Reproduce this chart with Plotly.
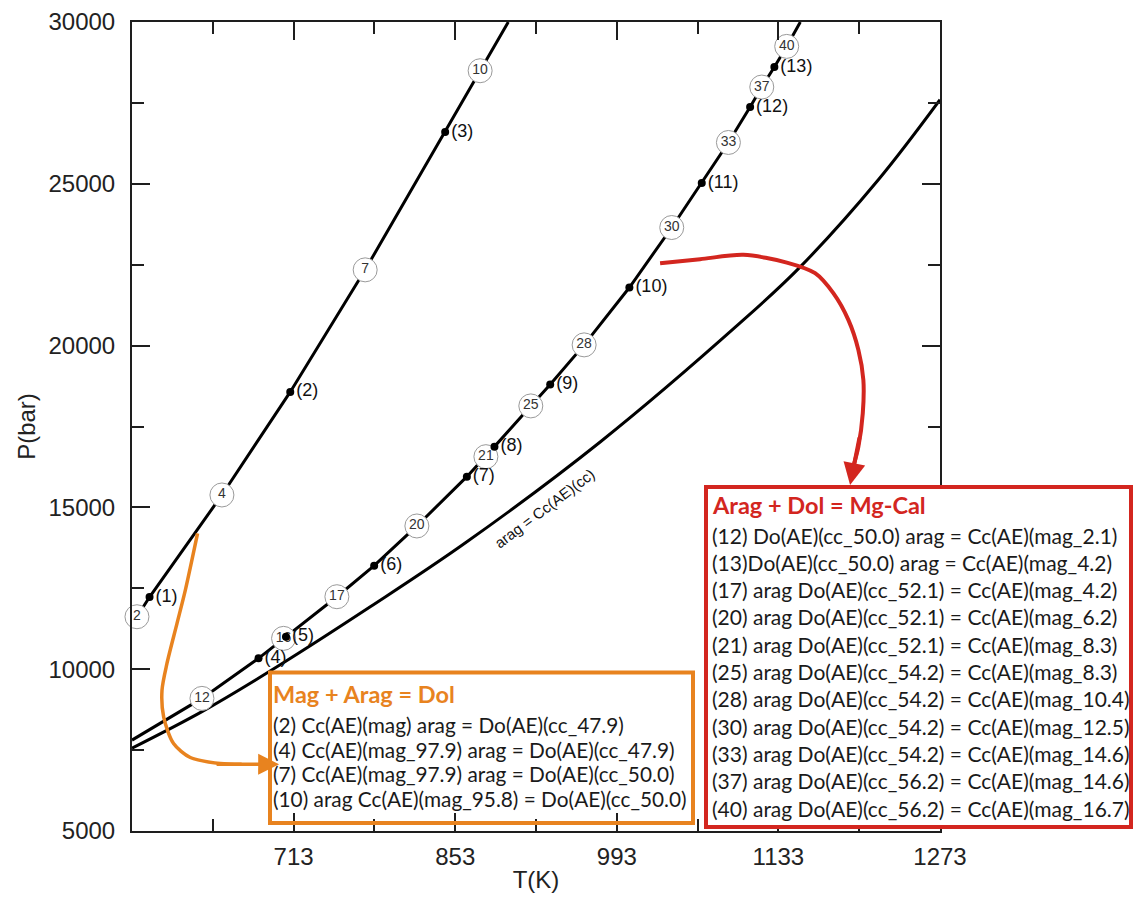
import plotly.graph_objects as go

# ------------------------------------------------------------------ data
# Left reaction curve (Mag + Arag = Dol)
curveA_dot_T = [588.2, 710.1, 844.3]
curveA_dot_P = [12230, 18569, 26599]
curveA_dot_lbl = ["(1)", "(2)", "(3)"]
curveA_circ_T = [577.3, 650.9, 775.0, 874.6]
curveA_circ_P = [11621, 15384, 22341, 28494]
curveA_circ_lbl = ["2", "4", "7", "10"]
curveA_end_T = [573, 899]
curveA_end_P = [11380, 30000]

# Middle reaction curve (Arag + Dol = Mg-Cal)
curveB_dot_T = [682.6, 706.4, 782.8, 863.1, 887.0, 935.3, 1003.9, 1066.6, 1108.5, 1129.5]
curveB_dot_P = [10335, 11003, 13198, 15950, 16878, 18800, 21794, 25022, 27372, 28609]
curveB_dot_lbl = ["(4)", "(5)", "(6)", "(7)", "(8)", "(9)", "(10)", "(11)", "(12)", "(13)"]
curveB_circ_T = [633.6, 704.3, 750.5, 819.8, 879.6, 918.5, 964.7, 1040.6, 1089.7, 1118.6, 1140.2]
curveB_circ_P = [9098, 10953, 12240, 14426, 16568, 18136, 20022, 23649, 26277, 27990, 29246]
curveB_circ_lbl = ["12", "16", "17", "20", "21", "25", "28", "30", "33", "37", "40"]
curveB_end_T = [573, 1152]
curveB_end_P = [7809, 30000]

# arag = Cc(AE)(cc)
curveC_T = [573, 633.6, 698.6, 779.4, 861.6, 978.6, 1099.8, 1151.7, 1219.6, 1273]
curveC_P = [7561, 8690, 10075, 11928, 13898, 17021, 20700, 22425, 25124, 27598]
curveC_label = "arag = Cc(AE)(cc)"
curveC_label_T, curveC_label_P = 930.1, 14980

# pointer arrows (data space)
orange_arrow_T = [629.8, 619.2, 612.0, 603.3, 599.0, 600.4, 609.0, 623.5, 649.5, 668.0]
orange_arrow_P = [14198, 12444, 11415, 10178, 9352, 8527, 7704, 7271, 7086, 7064]
orange_head_from = (645.0, 7064)
orange_tip = (700.5, 7060)
red_arrow_T = [1030.5, 1065.2, 1102.7, 1140.3, 1164.8, 1180.6, 1193.6, 1202.3, 1206.6, 1206.1, 1202.3, 1197.9]
red_arrow_P = [22547, 22671, 22804, 22566, 22238, 21620, 20794, 19866, 18939, 17909, 16876, 16257]
red_head_from = (1203.5, 17200)
red_tip = (1195.1, 15691)

# axes
x_tick_vals = [713, 853, 993, 1133, 1273]
x_minor_vals = [643, 783, 923, 1063, 1203]
y_tick_vals = [5000, 10000, 15000, 20000, 25000, 30000]
y_minor_vals = [7500, 12500, 17500, 22500, 27500]

# text boxes
mag_title = "Mag + Arag = Dol"
mag_rows = [
    "(2) Cc(AE)(mag) arag = Do(AE)(cc_47.9)",
    "(4) Cc(AE)(mag_97.9) arag = Do(AE)(cc_47.9)",
    "(7) Cc(AE)(mag_97.9) arag = Do(AE)(cc_50.0)",
    "(10) arag Cc(AE)(mag_95.8) = Do(AE)(cc_50.0)",
]
cal_title = "Arag + Dol = Mg-Cal"
cal_rows = [
    "(12) Do(AE)(cc_50.0) arag = Cc(AE)(mag_2.1)",
    "(13)Do(AE)(cc_50.0) arag = Cc(AE)(mag_4.2)",
    "(17) arag Do(AE)(cc_52.1) = Cc(AE)(mag_4.2)",
    "(20) arag Do(AE)(cc_52.1) = Cc(AE)(mag_6.2)",
    "(21) arag Do(AE)(cc_52.1) = Cc(AE)(mag_8.3)",
    "(25) arag Do(AE)(cc_54.2) = Cc(AE)(mag_8.3)",
    "(28) arag Do(AE)(cc_54.2) = Cc(AE)(mag_10.4)",
    "(30) arag Do(AE)(cc_54.2) = Cc(AE)(mag_12.5)",
    "(33) arag Do(AE)(cc_54.2) = Cc(AE)(mag_14.6)",
    "(37) arag Do(AE)(cc_56.2) = Cc(AE)(mag_14.6)",
    "(40) arag Do(AE)(cc_56.2) = Cc(AE)(mag_16.7)",
]

# ------------------------------------------------------------------ style
W, H = 1134, 899
ML, MR, MT, MB = 132, 194, 22, 68
PW, PH = W - ML - MR, H - MT - MB
FONT_AX = "Liberation Sans, Arial, sans-serif"
FONT_BOX = "Lato, Calibri, sans-serif"
ORANGE = "#E8831F"
RED = "#D3261F"
AXC = "#1e1e1e"


def px(x):
    return (x - ML) / PW


def py(y):
    return (H - MB - y) / PH


def merged(T1, P1, T2, P2, T3, P3):
    pts = sorted(zip(list(T1) + list(T2) + list(T3), list(P1) + list(P2) + list(P3)))
    return [p[0] for p in pts], [p[1] for p in pts]


fig = go.Figure()

# curves
for T1, P1, T2, P2, T3, P3 in [
    (curveA_end_T, curveA_end_P, curveA_dot_T, curveA_dot_P, curveA_circ_T, curveA_circ_P),
    (curveB_end_T, curveB_end_P, curveB_dot_T, curveB_dot_P, curveB_circ_T, curveB_circ_P),
]:
    lx, ly = merged(T1, P1, T2, P2, T3, P3)
    fig.add_trace(go.Scatter(x=lx, y=ly, mode="lines",
                             line=dict(color="black", width=3), hoverinfo="skip"))

fig.add_trace(go.Scatter(x=curveC_T, y=curveC_P, mode="lines",
                         line=dict(color="black", width=3, shape="spline", smoothing=1.0),
                         hoverinfo="skip"))

# circled step numbers
for T, P, L in [(curveA_circ_T, curveA_circ_P, curveA_circ_lbl),
                (curveB_circ_T, curveB_circ_P, curveB_circ_lbl)]:
    fig.add_trace(go.Scatter(
        x=T, y=P, text=L, mode="markers+text", textposition="middle center",
        marker=dict(symbol="circle", size=24, color="white",
                    line=dict(color="#9a9a9a", width=1)),
        textfont=dict(family=FONT_AX, size=14, color="#333333"),
        cliponaxis=False, hoverinfo="skip"))

# invariant points
for T, P, L in [(curveA_dot_T, curveA_dot_P, curveA_dot_lbl),
                (curveB_dot_T, curveB_dot_P, curveB_dot_lbl)]:
    fig.add_trace(go.Scatter(
        x=T, y=P, text=L, mode="markers+text", textposition="middle right",
        marker=dict(symbol="circle", size=8, color="black"),
        textfont=dict(family=FONT_AX, size=18, color="#111111"),
        cliponaxis=False, hoverinfo="skip"))

# pointer arrows (shafts)
fig.add_trace(go.Scatter(x=orange_arrow_T, y=orange_arrow_P, mode="lines",
                         line=dict(color=ORANGE, width=3.5, shape="spline", smoothing=0.8),
                         hoverinfo="skip"))
fig.add_trace(go.Scatter(x=red_arrow_T, y=red_arrow_P, mode="lines",
                         line=dict(color=RED, width=4, shape="spline", smoothing=0.8),
                         hoverinfo="skip"))

annotations = []
# arrow heads
annotations.append(dict(x=orange_tip[0], y=orange_tip[1], xref="x", yref="y",
                        ax=orange_head_from[0], ay=orange_head_from[1], axref="x", ayref="y",
                        text="", showarrow=True, arrowhead=2, arrowsize=1.2,
                        arrowwidth=3.5, arrowcolor=ORANGE, standoff=0, startstandoff=0))
annotations.append(dict(x=red_tip[0], y=red_tip[1], xref="x", yref="y",
                        ax=red_head_from[0], ay=red_head_from[1], axref="x", ayref="y",
                        text="", showarrow=True, arrowhead=2, arrowsize=1.1,
                        arrowwidth=4, arrowcolor=RED, standoff=0, startstandoff=0))
# curve label
annotations.append(dict(x=curveC_label_T, y=curveC_label_P, xref="x", yref="y",
                        text=curveC_label, showarrow=False, textangle=-37,
                        font=dict(family=FONT_AX, size=15, color="#111111")))

# box texts
annotations.append(dict(x=px(271), y=py(694), xref="paper", yref="paper", text="<b>%s</b>" % mag_title,
                        showarrow=False, xanchor="left", yanchor="middle",
                        font=dict(family=FONT_BOX, size=23.5, color=ORANGE)))
for i, t in enumerate(mag_rows):
    annotations.append(dict(x=px(271), y=py(724.5 + 24.7 * i), xref="paper", yref="paper", text=t,
                            showarrow=False, xanchor="left", yanchor="middle",
                            font=dict(family=FONT_BOX, size=20.8, color="#1a1a1a")))
annotations.append(dict(x=px(710), y=py(505), xref="paper", yref="paper", text="<b>%s</b>" % cal_title,
                        showarrow=False, xanchor="left", yanchor="middle",
                        font=dict(family=FONT_BOX, size=23.5, color=RED)))
for i, t in enumerate(cal_rows):
    annotations.append(dict(x=px(710), y=py(535 + 27.3 * i), xref="paper", yref="paper", text=t,
                            showarrow=False, xanchor="left", yanchor="middle",
                            font=dict(family=FONT_BOX, size=21, color="#1a1a1a")))

shapes = [
    dict(type="rect", xref="paper", yref="paper", x0=px(270), x1=px(693), y0=py(823), y1=py(672.5),
         line=dict(color=ORANGE, width=4), fillcolor="rgba(0,0,0,0)", layer="above"),
    dict(type="rect", xref="paper", yref="paper", x0=px(706), x1=px(1131), y0=py(827), y1=py(487),
         line=dict(color=RED, width=4), fillcolor="white", layer="above"),
]

axis_common = dict(
    showline=True, linewidth=2, linecolor=AXC, mirror="allticks",
    ticks="inside", ticklen=18, tickwidth=2, tickcolor=AXC,
    showgrid=False, zeroline=False, automargin=False,
    tickfont=dict(family=FONT_AX, size=24, color="#222222"),
    title_font=dict(family=FONT_AX, size=24, color="#222222"),
)

fig.update_layout(
    width=W, height=H,
    margin=dict(l=ML, r=MR, t=MT, b=MB, pad=0, autoexpand=False),
    paper_bgcolor="white", plot_bgcolor="white",
    showlegend=False,
    xaxis=dict(range=[573, 1273], tickmode="array", tickvals=x_tick_vals, tickformat="d",
               minor=dict(tickmode="array", tickvals=x_minor_vals, ticks="inside",
                          ticklen=12, tickwidth=2, tickcolor=AXC),
               ticklabelstandoff=3,
               title=dict(text="T(K)", standoff=2), **axis_common),
    yaxis=dict(range=[5000, 30000], tickmode="array", tickvals=y_tick_vals, tickformat="d",
               minor=dict(tickmode="array", tickvals=y_minor_vals, ticks="inside",
                          ticklen=12, tickwidth=2, tickcolor=AXC),
               ticklabelstandoff=10,
               title=dict(text="P(bar)", standoff=6), **axis_common),
    annotations=annotations,
    shapes=shapes,
)

fig.write_html("out.html")
